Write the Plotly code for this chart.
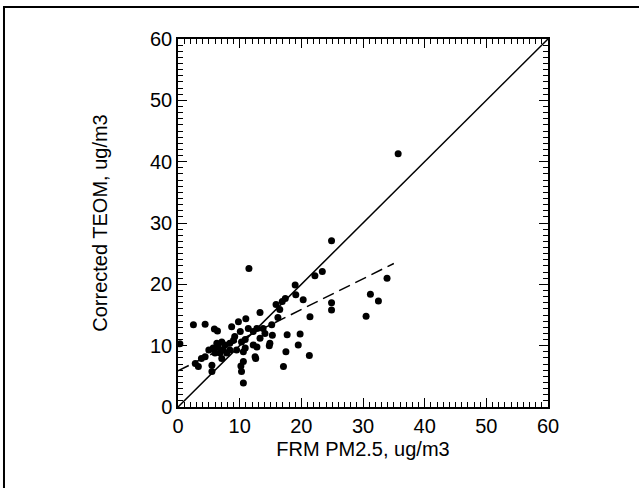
import plotly.graph_objects as go

# Scatter data: FRM PM2.5 (x) vs Corrected TEOM (y), ug/m3
frm = [35.7, 24.9, 11.5, 22.2, 23.4, 19.0, 33.9, 19.1, 20.3, 17.4, 16.9, 15.9,
       16.5, 16.2, 13.3, 11.0, 24.9, 24.9, 21.4, 31.2, 32.5, 30.5,
       17.7, 19.8, 19.5, 17.5, 21.3, 17.1, 0.3, 15.3, 14.8, 12.6,
       2.5, 4.4, 5.9, 6.4, 9.8, 8.7, 9.2, 11.4, 12.2, 12.8, 13.8, 15.2, 14.1,
       10.9, 10.3, 8.4, 7.6, 7.1, 6.5, 5.7, 5.0, 4.4, 3.8, 2.8, 3.3, 5.5, 5.5,
       6.8, 7.9, 7.1, 9.5, 10.6, 10.9, 12.2, 12.8, 12.5, 14.9, 10.6, 10.2,
       10.3, 10.6, 6.3, 7.3, 8.4, 6.0, 9.0, 10.1, 13.3]
teom = [41.3, 27.1, 22.6, 21.4, 22.1, 19.9, 21.0, 18.3, 17.5, 17.7, 17.2, 16.7,
        15.9, 14.6, 15.4, 14.4, 17.0, 15.8, 14.7, 18.4, 17.3, 14.8,
        11.8, 11.9, 10.1, 9.0, 8.4, 6.6, 10.3, 11.7, 10.0, 7.9,
        13.4, 13.5, 12.7, 12.4, 13.9, 13.1, 11.5, 12.8, 12.3, 12.8, 12.8, 13.4, 12.0,
        11.0, 10.6, 10.4, 10.1, 10.6, 9.8, 9.6, 9.3, 8.2, 7.9, 7.1, 6.6, 6.8, 5.8,
        8.8, 8.8, 7.9, 9.3, 9.0, 9.6, 10.1, 9.8, 8.2, 10.4, 7.4, 6.7,
        5.8, 3.9, 10.4, 9.3, 9.3, 8.8, 10.9, 12.3, 11.2]

# 1:1 reference line and regression (dashed) line
one_x = [0, 60]
one_y = [0, 60]
fit_x = [0, 35]
fit_y = [5.9, 23.4]

x_ticks = [0, 10, 20, 30, 40, 50, 60]
y_ticks = [0, 10, 20, 30, 40, 50, 60]

FONT = "Liberation Sans, Arial, sans-serif"

fig = go.Figure()
fig.add_trace(go.Scatter(x=one_x, y=one_y, mode="lines",
                         line=dict(color="black", width=1.5), showlegend=False))
fig.add_trace(go.Scatter(x=fit_x, y=fit_y, mode="lines",
                         line=dict(color="black", width=1.5, dash="12px,6px"),
                         showlegend=False))
fig.add_trace(go.Scatter(x=frm, y=teom, mode="markers",
                         marker=dict(color="black", size=7), showlegend=False))

axis_common = dict(
    range=[0, 60], showgrid=False, zeroline=False,
    showline=True, linecolor="black", linewidth=1.5, mirror="allticks",
    ticks="inside", ticklen=9, tickwidth=1.2, tickcolor="black",
    minor=dict(ticks="inside", ticklen=5, tickwidth=1, tickcolor="black", dtick=1),
    tickfont=dict(family=FONT, size=20, color="black"),
    title_font=dict(family=FONT, size=20, color="black"),
)

fig.update_xaxes(tickvals=x_ticks, ticktext=[str(v) for v in x_ticks],
                 title_text="FRM PM2.5, ug/m3", title_standoff=6, **axis_common)
fig.update_yaxes(tickvals=y_ticks, ticktext=[str(v) for v in y_ticks],
                 title_text="Corrected TEOM, ug/m3", title_standoff=37, **axis_common)

fig.update_layout(
    width=639, height=488,
    margin=dict(l=178, r=91, t=39, b=81, autoexpand=False),
    paper_bgcolor="white", plot_bgcolor="white",
    shapes=[dict(type="rect", xref="paper", yref="paper",
                 x0=-0.4703, x1=1.27, y0=-0.25, y1=1.087,
                 line=dict(color="black", width=2), fillcolor="rgba(0,0,0,0)",
                 layer="below")],
)

fig.write_html("out.html", config={"displayModeBar": False},
               post_script="document.body.style.margin='0px';")
